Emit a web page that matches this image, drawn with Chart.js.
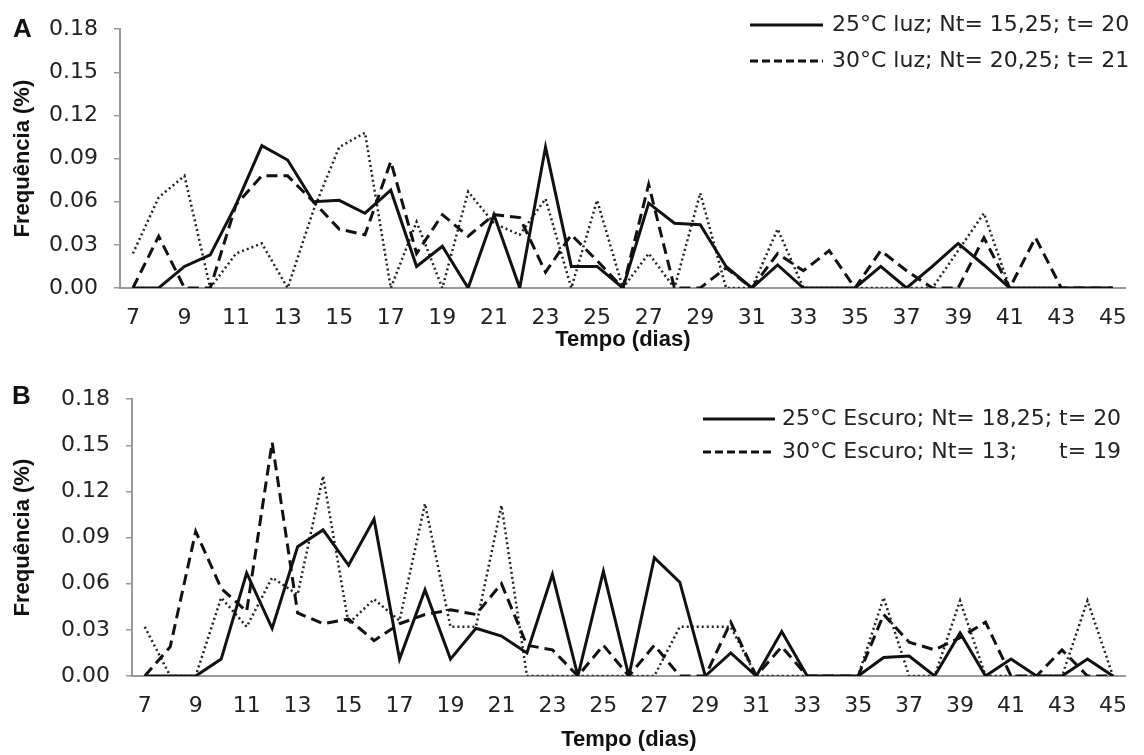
<!DOCTYPE html>
<html>
<head>
<meta charset="utf-8">
<script src="https://cdn.jsdelivr.net/npm/chart.js@4.4.1/dist/chart.umd.min.js"></script>
<style>
  html, body { margin: 0; padding: 0; background: #fff; }
  #wrapA { position: absolute; left: 0; top: 0; width: 1144px; height: 370px; }
  #wrapB { position: absolute; left: 0; top: 370px; width: 1144px; height: 385px; }
</style>
</head>
<body>
<div id="wrapA"><canvas id="chartA"></canvas></div>
<div id="wrapB"><canvas id="chartB"></canvas></div>
<script>
// dias 7..45
var days = [7, 8, 9, 10, 11, 12, 13, 14, 15, 16, 17, 18, 19, 20, 21, 22, 23, 24, 25, 26,
            27, 28, 29, 30, 31, 32, 33, 34, 35, 36, 37, 38, 39, 40, 41, 42, 43, 44, 45];
var yTicks = [0, 0.03, 0.06, 0.09, 0.12, 0.15, 0.18];

// painel A (luz)
var luz25 = [0, 0, 0.015, 0.023, 0.058, 0.099, 0.089, 0.060, 0.061, 0.052, 0.068, 0.015, 0.029,
             0, 0.051, 0, 0.098, 0.015, 0.015, 0, 0.059, 0.045, 0.044, 0.015, 0, 0.016,
             0, 0, 0, 0.015, 0, 0.015, 0.031, 0.016, 0, 0, 0, 0, 0];
var luz30 = [0, 0.036, 0, 0, 0.058, 0.078, 0.078, 0.060, 0.041, 0.037, 0.088, 0.024, 0.051,
             0.036, 0.051, 0.049, 0.011, 0.037, 0.019, 0, 0.072, 0, 0, 0.014, 0, 0.024,
             0.012, 0.026, 0, 0.026, 0.012, 0, 0, 0.035, 0, 0.035, 0, 0, 0];
var luzDot = [0.024, 0.063, 0.078, 0, 0.024, 0.031, 0, 0.054, 0.098, 0.108, 0, 0.046, 0,
              0.067, 0.045, 0.037, 0.062, 0, 0.061, 0, 0.024, 0, 0.066, 0, 0, 0.041,
              0, 0, 0, 0, 0, 0, 0.026, 0.052, 0, 0, 0, 0, 0];

// painel B (escuro)
var esc25 = [0, 0, 0, 0.011, 0.067, 0.031, 0.084, 0.095, 0.072, 0.102, 0.011, 0.056, 0.011,
             0.031, 0.026, 0.015, 0.066, 0, 0.068, 0, 0.077, 0.061, 0, 0.015, 0, 0.029,
             0, 0, 0, 0.012, 0.013, 0, 0.028, 0, 0.011, 0, 0, 0.011, 0];
var esc30 = [0, 0.019, 0.094, 0.057, 0.042, 0.152, 0.041, 0.034, 0.037, 0.023, 0.034, 0.040, 0.043,
             0.040, 0.060, 0.020, 0.017, 0, 0.020, 0, 0.020, 0, 0, 0.035, 0, 0.019,
             0, 0, 0, 0.040, 0.022, 0.017, 0.025, 0.035, 0, 0, 0.017, 0, 0];
var escDot = [0.032, 0, 0, 0.051, 0.032, 0.064, 0.053, 0.130, 0.034, 0.050, 0.036, 0.112, 0.032,
              0.032, 0.111, 0, 0, 0, 0, 0, 0, 0.032, 0.032, 0.032, 0, 0,
              0, 0, 0, 0.051, 0, 0, 0.049, 0, 0, 0, 0, 0.049, 0];

var labelsA = ['25°C luz; Nt= 15,25; t= 20', '30°C luz; Nt= 20,25; t= 21'];
var labelsB = ['25°C Escuro; Nt= 18,25; t= 20', '30°C Escuro; Nt= 13;      t= 19'];

Chart.defaults.font.family = '"DejaVu Sans", sans-serif';
Chart.defaults.color = '#222';

// legend + panel letter drawn by hand
var sideLegend = {
  id: 'sideLegend',
  afterDraw: function(chart, args, opts) {
    var ctx = chart.ctx;
    var dashes = [[], [8, 4]];
    ctx.save();
    ctx.textBaseline = 'middle';
    ctx.fillStyle = '#222';
    ctx.font = '22px "DejaVu Sans"';
    opts.rows.forEach(function(y, i) {
      var ds = chart.data.datasets[i];
      ctx.beginPath();
      ctx.setLineDash(dashes[i]);
      ctx.lineWidth = ds.borderWidth;
      ctx.strokeStyle = ds.borderColor;
      ctx.moveTo(opts.x1, y);
      ctx.lineTo(opts.x2, y);
      ctx.stroke();
      ctx.setLineDash([]);
      ctx.fillText(ds.label, opts.textX, y);
    });
    ctx.font = 'bold 26px "Liberation Sans"';
    ctx.fillStyle = '#111';
    ctx.fillText(opts.letter, opts.letterX, opts.letterY);
    ctx.restore();
  }
};

function makeChart(id, labels, s1, s2, s3, cfg) {
  return new Chart(document.getElementById(id), {
    type: 'line',
    data: {
      labels: days,
      datasets: [
        { label: labels[0], data: s1, borderColor: '#111', borderWidth: 3, borderDash: [] },
        { label: labels[1], data: s2, borderColor: '#111', borderWidth: 3, borderDash: [11, 6] },
        { label: '', data: s3, borderColor: '#222', borderWidth: 2.5, borderDash: [2, 3] }
      ]
    },
    plugins: [sideLegend],
    options: {
      responsive: true,
      maintainAspectRatio: false,
      animation: false,
      layout: { padding: { top: cfg.top, right: cfg.right, left: 0, bottom: 0 } },
      elements: { point: { radius: 0 }, line: { tension: 0, fill: false } },
      plugins: {
        legend: { display: false },
        tooltip: { enabled: false },
        sideLegend: cfg.legend
      },
      scales: {
        x: {
          offset: true,
          grid: { display: false, drawTicks: false },
          border: { display: true, color: '#999', width: 2 },
          ticks: {
            autoSkip: false, maxRotation: 0, padding: 17,
            font: { size: 22 },
            callback: function(v, i) { return i % 2 === 0 ? String(days[i]) : ''; }
          },
          title: {
            display: true, text: 'Tempo (dias)',
            font: { family: '"Liberation Sans"', size: 22, weight: 'bold' },
            color: '#111', padding: { top: 0, bottom: cfg.xTitlePad }
          },
          afterFit: function(scale) { scale.height = cfg.xHeight; }
        },
        y: {
          min: 0, max: 0.18,
          afterBuildTicks: function(scale) {
            scale.ticks = yTicks.map(function(v) { return { value: v }; });
          },
          grid: { drawOnChartArea: false, drawTicks: true, tickLength: 6, color: '#999', lineWidth: 1.5 },
          border: { display: true, color: '#999', width: 2 },
          ticks: {
            padding: 16, font: { size: 22 },
            callback: function(v) { return v.toFixed(2); }
          },
          title: {
            display: true, text: 'Frequência (%)',
            font: { family: '"Liberation Sans"', size: 22, weight: 'bold' },
            color: '#111', padding: { top: 10, bottom: 0 }
          },
          afterFit: function(scale) { scale.width = cfg.yWidth; }
        }
      }
    }
  });
}

makeChart('chartA', labelsA, luz25, luz30, luzDot, {
  top: 27, right: 10, yWidth: 120, xHeight: 82, xTitlePad: 17,
  legend: { rows: [25, 61], x1: 750, x2: 823, textX: 832, letter: 'A', letterX: 13, letterY: 30 }
});

makeChart('chartB', labelsB, esc25, esc30, escDot, {
  top: 25, right: 4, yWidth: 132, xHeight: 79, xTitlePad: 2,
  legend: { rows: [49, 82], x1: 703, x2: 775, textX: 782, letter: 'B', letterX: 12, letterY: 27 }
});
</script>
</body>
</html>
